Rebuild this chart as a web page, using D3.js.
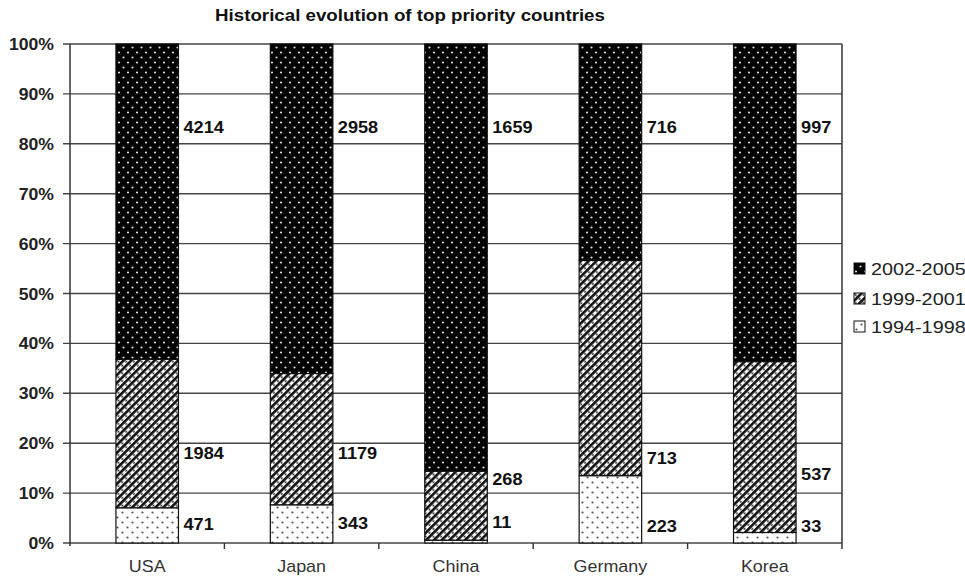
<!DOCTYPE html>
<html>
<head>
<meta charset="utf-8">
<script src="https://cdn.jsdelivr.net/npm/d3@7"></script>
<style>
  html, body { margin: 0; padding: 0; background: #fff; }
  svg { display: block; font-family: "Liberation Sans", Arial, sans-serif; }
</style>
</head>
<body>
<svg id="chart" width="965" height="577"></svg>
<script>
// ---- data ----
const title = "Historical evolution of top priority countries";
const categories = ["USA", "Japan", "China", "Germany", "Korea"];
const seriesNames = ["1994-1998", "1999-2001", "2002-2005"];
const v1994_1998 = [471, 343, 11, 223, 33];
const v1999_2001 = [1984, 1179, 268, 713, 537];
const v2002_2005 = [4214, 2958, 1659, 716, 997];
// label anchor heights (share of bar) as placed in the original figure
const lbl1994_1998 = [0.038, 0.040, 0.042, 0.034, 0.034];
const lbl1999_2001 = [0.180, 0.180, 0.128, 0.170, 0.138];
const lbl2002_2005 = [0.834, 0.834, 0.834, 0.834, 0.834];
const yTicks = [0, 0.1, 0.2, 0.3, 0.4, 0.5, 0.6, 0.7, 0.8, 0.9, 1.0];

const seriesValues = [v1994_1998, v1999_2001, v2002_2005];
const seriesLabels = [lbl1994_1998, lbl1999_2001, lbl2002_2005];
const rows = categories.map((c, i) => {
  const r = { cat: c };
  seriesNames.forEach((s, k) => r[s] = seriesValues[k][i]);
  return r;
});

// ---- layout ----
const svg = d3.select("#chart");
const M = { left: 70, right: 842, top: 44, bottom: 543 };
const SX = 1.1; // horizontal stretch of original lettering

const x = d3.scaleBand().domain(categories).range([M.left, M.right])
  .paddingInner(0.595).paddingOuter(0.2975);
const xb = d3.scaleBand().domain(categories).range([M.left, M.right]);
const y = d3.scaleLinear().domain([0, 1]).range([M.bottom, M.top]);

const stack = d3.stack().keys(seriesNames).offset(d3.stackOffsetExpand);
const stacked = stack(rows);

// ---- patterns ----
const defs = svg.append("defs");
const fillId = { "2002-2005": "pDark", "1999-2001": "pStripe", "1994-1998": "pDots" };

const pd = defs.append("pattern").attr("id", "pDark").attr("patternUnits", "userSpaceOnUse")
  .attr("width", 9).attr("height", 10);
pd.append("rect").attr("width", 9).attr("height", 10).attr("fill", "#000");
pd.append("circle").attr("cx", 2).attr("cy", 2.5).attr("r", 1.1).attr("fill", "#ddd");
pd.append("circle").attr("cx", 6.5).attr("cy", 7.5).attr("r", 1.1).attr("fill", "#ddd");

const ps = defs.append("pattern").attr("id", "pStripe").attr("patternUnits", "userSpaceOnUse")
  .attr("width", 5.5).attr("height", 5.5).attr("patternTransform", "rotate(45)");
ps.append("rect").attr("width", 5.5).attr("height", 5.5).attr("fill", "#fff");
ps.append("rect").attr("x", 0).attr("width", 2.6).attr("height", 5.5).attr("fill", "#111");
ps.append("circle").attr("cx", 4).attr("cy", 1.5).attr("r", 1.0).attr("fill", "#222");

const pl = defs.append("pattern").attr("id", "pDots").attr("patternUnits", "userSpaceOnUse")
  .attr("width", 10).attr("height", 10);
pl.append("rect").attr("width", 10).attr("height", 10).attr("fill", "#fff");
pl.append("circle").attr("cx", 2.5).attr("cy", 2.5).attr("r", 1.1).attr("fill", "#555");
pl.append("circle").attr("cx", 7.5).attr("cy", 7.5).attr("r", 1.1).attr("fill", "#555");

// ---- title ----
svg.append("text")
  .attr("transform", `translate(410,21) scale(1.17,1)`)
  .attr("text-anchor", "middle").attr("font-size", 16).attr("font-weight", "bold")
  .attr("fill", "#111").text(title);

// ---- gridlines + y axis ----
const grid = svg.append("g");
grid.selectAll("line").data(yTicks).join("line")
  .attr("x1", M.left - 7).attr("x2", M.right)
  .attr("y1", d => y(d)).attr("y2", d => y(d))
  .attr("stroke", "#444").attr("stroke-width", 1.4);

svg.append("line").attr("x1", M.left).attr("x2", M.left)
  .attr("y1", M.top).attr("y2", M.bottom + 3).attr("stroke", "#333").attr("stroke-width", 1.5);
svg.append("line").attr("x1", M.right).attr("x2", M.right)
  .attr("y1", M.top).attr("y2", M.bottom + 6).attr("stroke", "#333").attr("stroke-width", 1.5);

const fmt = d3.format(".0%");
svg.append("g").selectAll("text").data(yTicks).join("text")
  .attr("transform", d => `translate(54,${y(d) + 6}) scale(${SX},1)`)
  .attr("text-anchor", "end").attr("font-size", 16).attr("font-weight", "bold")
  .attr("fill", "#222").text(d => fmt(d));

svg.append("g").selectAll("line").data(categories.slice(1)).join("line")
  .attr("x1", d => xb(d)).attr("x2", d => xb(d))
  .attr("y1", M.bottom).attr("y2", M.bottom + 6)
  .attr("stroke", "#333").attr("stroke-width", 1.4);

svg.append("g").selectAll("text").data(categories).join("text")
  .attr("transform", d => `translate(${x(d) + x.bandwidth() / 2},${M.bottom + 29}) scale(1.12,1)`)
  .attr("text-anchor", "middle").attr("font-size", 16).attr("fill", "#333").text(d => d);

// ---- bars ----
const layers = svg.append("g").selectAll("g").data(stacked).join("g")
  .attr("fill", d => `url(#${fillId[d.key]})`);
layers.selectAll("rect").data(d => d).join("rect")
  .attr("x", d => x(d.data.cat))
  .attr("width", x.bandwidth())
  .attr("y", d => y(d[1]))
  .attr("height", d => y(d[0]) - y(d[1]))
  .attr("stroke", "#111").attr("stroke-width", 1.2);

// ---- value labels ----
const labG = svg.append("g");
seriesNames.forEach((s, k) => {
  labG.append("g").selectAll("text").data(categories).join("text")
    .attr("transform", (c, i) => `translate(${x(c) + x.bandwidth() + 5},${y(seriesLabels[k][i]) + 6}) scale(${SX},1)`)
    .attr("font-size", 16.5).attr("font-weight", "bold").attr("fill", "#111")
    .text((c, i) => seriesValues[k][i]);
});

// ---- legend ----
const legendOrder = ["2002-2005", "1999-2001", "1994-1998"];
const legendY = [269, 299, 327];
const lg = svg.append("g").selectAll("g").data(legendOrder).join("g")
  .attr("transform", (d, i) => `translate(854,${legendY[i]})`);
lg.append("rect").attr("x", 0).attr("y", -6).attr("width", 11).attr("height", 11)
  .attr("fill", d => `url(#${fillId[d]})`).attr("stroke", "#111").attr("stroke-width", 1);
lg.append("text").attr("transform", `translate(17,6) scale(1.2,1)`)
  .attr("font-size", 16.5).attr("fill", "#222").text(d => d);
</script>
</body>
</html>
